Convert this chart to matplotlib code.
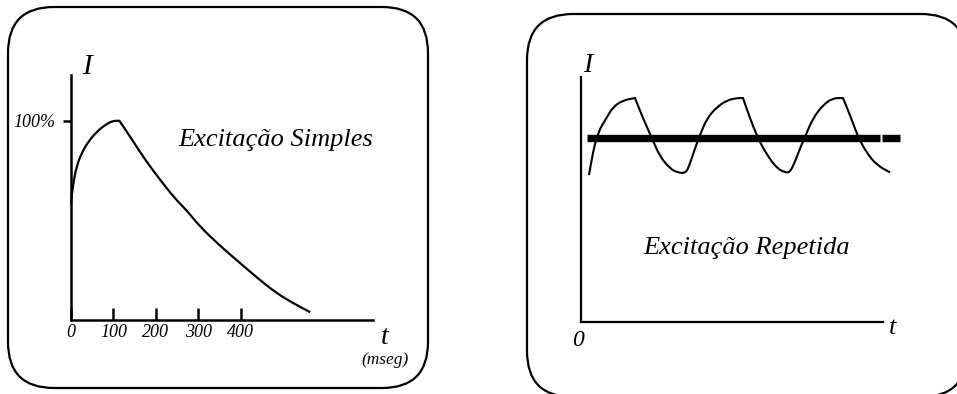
import matplotlib
matplotlib.use("Agg")
import matplotlib.pyplot as plt
from matplotlib.patches import FancyBboxPatch, PathPatch
from matplotlib.path import Path

plt.rcParams['font.family'] = ['Liberation Serif', 'DejaVu Serif']

# ---- Data: single excitation (time in ms, intensity in %) ----
single_t = [0, 0, 1.6, 5.5, 13, 25, 41, 61, 84, 100, 114, 114, 127, 147, 178, 210, 245,
            273, 304, 350, 399, 440, 485, 525, 564]
single_i = [58, 58, 62, 68.7, 77, 83.8, 89.6, 94.6, 98.5, 100, 100, 100, 96, 89.5, 79.5, 70.4, 61,
            55, 46.9, 37.5, 28.5, 21, 13.4, 8.3, 3.9]
single_xticks = [0, 100, 200, 300, 400]
single_xticklabels = ["0", "100", "200", "300", "400"]
single_yticks = [100]
single_yticklabels = ["100%"]

# ---- Data: repeated excitation (arbitrary time units, relative intensity) ----
rep_t = [8, 8, 12, 17, 26, 32, 42, 54, 54, 62, 71, 79, 89, 96, 105, 109, 114, 119, 126, 136, 146,
         156, 162, 162, 169, 177, 186, 196, 204, 209, 214, 219, 224, 232, 242, 252, 262, 262,
         269, 277, 286, 296, 309, 309]
rep_i = [65.6, 65.6, 75.9, 84.8, 91.5, 96, 99, 100, 100, 91, 82, 73.8, 68.6, 66.8, 66.4, 70.8, 77.5,
         83.5, 91, 96, 99, 100, 100, 100, 91, 82, 74.6, 68.6, 66.8, 66.8, 71.6, 77.5, 82.7,
         91, 96.9, 100, 100, 100, 92.4, 82.7, 75.3, 70, 66.8, 66.8]
mean_level = 82.1
mean_segments = [(6, 299), (301, 319)]


def smooth_curve(ax, xs, ys, lw):
    """Quadratic B-spline drawn by matplotlib's Path through the read points."""
    pts = list(zip(xs, ys))
    verts = [pts[0]]
    codes = [Path.MOVETO]
    for i in range(1, len(pts) - 1):
        p, q = pts[i], pts[i + 1]
        verts += [p, ((p[0] + q[0]) / 2, (p[1] + q[1]) / 2)]
        codes += [Path.CURVE3, Path.CURVE3]
    verts.append(pts[-1])
    codes.append(Path.LINETO)
    patch = PathPatch(Path(verts, codes), fill=False, lw=lw, ec='black',
                      transform=ax.transData, clip_on=False, capstyle='butt')
    ax.add_patch(patch)


W, H = 957, 394
fig = plt.figure(figsize=(W / 100, H / 100), dpi=100)

# background layer in pixel coordinates for the rounded frames and labels
bg = fig.add_axes([0, 0, 1, 1])
bg.set_xlim(0, W)
bg.set_ylim(H, 0)
bg.axis('off')
for (x0, y0, w, h) in [(8, 7, 420, 381), (527, 14, 440, 383)]:
    bg.add_patch(FancyBboxPatch((x0, y0), w, h,
                                boxstyle="round,pad=0,rounding_size=46",
                                fill=True, fc='white', lw=1.6, ec='black', clip_on=False))

# ---- Left panel ----
ax1 = fig.add_axes([71 / W, (H - 320) / H, 302 / W, 245 / H])
ax1.patch.set_alpha(0)
smooth_curve(ax1, single_t, single_i, 1.6)
ax1.set_xlim(0, 712)
ax1.set_ylim(0, 123)
for s in ['top', 'right']:
    ax1.spines[s].set_visible(False)
for s in ['left', 'bottom']:
    ax1.spines[s].set_linewidth(1.8)
ax1.set_xticks(single_xticks)
ax1.set_xticklabels(single_xticklabels, fontstyle='italic', fontsize=13)
ax1.set_yticks(single_yticks)
ax1.set_yticklabels(single_yticklabels, fontstyle='italic', fontsize=13)
ax1.tick_params(axis='x', direction='in', length=9, width=1.8, pad=3)
ax1.tick_params(axis='y', direction='out', length=6, width=1.8, pad=5)

bg.text(87, 67, "I", fontsize=21, fontstyle='italic', ha='center', va='center')
bg.text(276, 140, "Excitação Simples", fontsize=19, fontstyle='italic', ha='center', va='center')
bg.text(385, 337, "t", fontsize=20, fontstyle='italic', ha='center', va='center')
bg.text(385, 360, "(mseg)", fontsize=12.5, fontstyle='italic', ha='center', va='center')

# ---- Right panel ----
ax2 = fig.add_axes([581 / W, (H - 322) / H, 302 / W, 245 / H])
ax2.patch.set_alpha(0)
smooth_curve(ax2, rep_t, rep_i, 1.5)
for a, b in mean_segments:
    ax2.plot([a, b], [mean_level, mean_level], color='black', lw=5.3,
             solid_capstyle='butt', clip_on=False)
ax2.set_xlim(0, 302)
ax2.set_ylim(0, 109.4)
for s in ['top', 'right']:
    ax2.spines[s].set_visible(False)
for s in ['left', 'bottom']:
    ax2.spines[s].set_linewidth(1.6)
ax2.set_xticks([])
ax2.set_yticks([])

bg.text(588, 65, "I", fontsize=20, fontstyle='italic', ha='center', va='center')
bg.text(578, 340, "0", fontsize=17, fontstyle='italic', ha='center', va='center')
bg.text(893, 328, "t", fontsize=19, fontstyle='italic', ha='center', va='center')
bg.text(747, 248, "Excitação Repetida", fontsize=19, fontstyle='italic', ha='center', va='center')

fig.savefig("out.png", dpi=100)
